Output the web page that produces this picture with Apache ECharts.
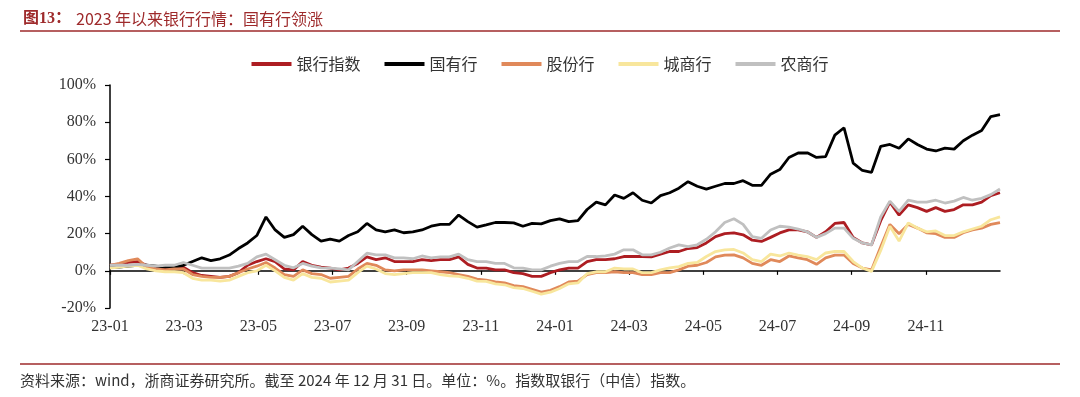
<!DOCTYPE html>
<html>
<head>
<meta charset="utf-8">
<title>2023 年以来银行行情</title>
<script src="https://cdn.jsdelivr.net/npm/echarts@6/dist/echarts.min.js"></script>
<style>
  html, body { margin: 0; padding: 0; background: #fff; }
  #chart { width: 1080px; height: 397px; }
</style>
</head>
<body>
<div id="chart"></div>
<script>
// tick labels of the date axis (one every two months from 2023-01)
const monthLabels = ['23-01', '23-03', '23-05', '23-07', '23-09', '23-11',
  '24-01', '24-03', '24-05', '24-07', '24-09', '24-11'];

const seriesNames = ['银行指数', '国有行', '股份行', '城商行', '农商行'];

// cumulative return in %, sampled evenly from 2023-01 to 2024-12-31
const bankIndex = [3, 3.5, 4.5, 5, 3, 1.5, 1, 1.5, 2, -1,
  -2.5, -3, -3.5, -3, -1, 3, 5, 6.5, 5, 1,
  0.5, 5, 3, 2, 1.5, 0.5, 1.5, 4, 7.5, 6,
  7, 5, 5, 5, 6, 5.5, 6, 6, 7.5, 3.5,
  1.5, 1.5, 0.5, 0.5, -1, -1.5, -3, -3, -1, 0.5,
  1.5, 1.5, 5, 6, 6, 6.5, 7.7, 7.7, 7.7, 7.5,
  9, 10.4, 10.4, 12, 12.5, 15, 18.4, 20, 20.4, 19.4,
  16.5, 15.8, 18, 20.4, 22, 22, 21, 18, 21, 25.5,
  26, 18, 15, 14, 27, 37, 30, 35.5, 34, 32,
  34, 32, 33, 35.5, 35.5, 37, 40.5, 42];

const stateOwned = [2, 2, 2.5, 3, 3, 2.5, 2, 2, 3, 5,
  7, 5.5, 6.5, 8.5, 12, 15, 19, 29, 22, 18,
  19.5, 24, 19.5, 16, 17, 16, 19, 21, 25.5, 22,
  21, 22, 20.5, 21, 22, 24, 25, 25, 30, 26.5,
  23.5, 24.7, 26, 26, 25.8, 24, 25.5, 25.3, 27, 28,
  26.5, 27, 33, 37, 35.5, 40.8, 39, 42, 38, 36.5,
  40.5, 42, 44.5, 48, 45.5, 44, 45.5, 47, 47, 48.5,
  46, 46, 52, 54.5, 61, 63.4, 63.5, 61, 61.5, 73,
  77, 58, 54, 53, 67, 68, 66, 71, 68, 65.5,
  64.5, 66, 65.5, 70, 73, 75.5, 83, 84];

const jointStock = [3, 4, 5.5, 6.5, 2, 1, 0.5, 1, 1, -2,
  -3, -3.5, -3.5, -3, -1, 1, 2.5, 4.5, 1.5, -2,
  -3, 0.5, -1.5, -2, -4, -3.5, -3, 1, 4, 3,
  0.5, 0, 0.5, 0.5, 0.5, 0, -0.5, -1, -2, -3,
  -4.5, -5, -6, -6.5, -8, -8.5, -10, -11.5, -10.5, -8.5,
  -6, -5.5, -2, -1, -1, -0.5, -1, -1, -2, -2,
  -1, -1, 0.5, 2.5, 3, 4.5, 7.5, 8.5, 8.6, 7,
  4, 3, 6, 5, 8, 7, 6, 3.5, 7, 8.5,
  8.5, 4, 1.5, 0.5, 13, 25, 20, 25, 23, 20.5,
  20, 18, 18, 20.5, 22, 23, 25, 26];

const cityBank = [1.5, 2, 2.5, 3, 1, 0, -0.5, -0.5, -1, -4,
  -5, -5, -5.5, -5, -3, -1, 0, 3, 0, -3.5,
  -5, -1.5, -3.5, -4, -6, -5.5, -5, -1, 2.5, 1,
  -1.5, -2, -1.5, -1, -1, -1, -2, -2.7, -3, -4,
  -5.5, -5.7, -7, -7.5, -9, -9.5, -11, -12.5, -11.5, -9.5,
  -7, -6.5, -1.5, -0.5, -0.5, 1.5, 1, 1, -1, -1,
  0.5, 1.6, 2.3, 4, 4.5, 7.7, 10.4, 11.3, 11.5, 9.6,
  6, 5, 9, 8, 9.6, 8.5, 7.7, 6, 9.6, 10.4,
  10.4, 5, 1.5, -0.3, 11, 24, 16, 25.8, 23, 21,
  21.5, 19, 19, 21, 22.5, 24, 27.5, 29];

const ruralBank = [3, 3, 3, 3.5, 3, 2.5, 3, 3, 4.5, 3,
  1.5, 1.5, 1.5, 1.5, 2.5, 4, 7.5, 9, 6, 3,
  1.6, 4, 2.5, 1.6, 1.5, 1, 0.5, 5, 9.5, 8.6,
  8.6, 7, 7, 6.5, 8, 7, 7.5, 7.5, 9, 6,
  5, 5, 4, 4, 1.6, 1.5, 0.5, 0.5, 2.5, 4,
  5, 5, 7.7, 7.7, 8, 9, 11.3, 11.3, 8.6, 8.6,
  10, 12.3, 14, 13, 14, 17, 21, 26, 28, 25,
  18.4, 17.5, 22, 24, 23.5, 22.5, 21, 18, 20, 23,
  23, 17.5, 15, 14, 29, 37.5, 32, 38, 37, 37,
  38, 36.5, 37.5, 39.5, 38, 39, 41, 44];

const seriesColors = ['#ad1d22', '#000000', '#e0895a', '#f8e69c', '#c0c0c0'];

const allValues = [bankIndex, stateOwned, jointStock, cityBank, ruralBank];
const totalMonths = 24;

function toPoints(values) {
  const step = totalMonths / (values.length - 1);
  return values.map((v, i) => [i * step, v]);
}

const dom = document.getElementById('chart');
const myChart = echarts.init(dom, null, { renderer: 'canvas' });

const serifFont = '"Liberation Serif", "Times New Roman", serif';
const cjkFont = '"Noto Sans CJK SC", sans-serif';
const titleRed = '#9e2a2b';

const option = {
  animation: false,
  backgroundColor: '#fff',
  color: seriesColors,
  title: {
    left: 18,
    top: 5,
    text: '{b|图13：} {n|2023 年以来银行行情：国有行领涨}',
    textStyle: {
      fontWeight: 'normal',
      rich: {
        b: { fontFamily: serifFont + ',' + cjkFont, fontWeight: 'bold', fontSize: 16, color: titleRed },
        n: { fontFamily: cjkFont, fontWeight: 'normal', fontSize: 16, color: titleRed }
      }
    }
  },
  legend: {
    top: 51,
    left: 'center',
    icon: 'rect',
    itemWidth: 40,
    itemHeight: 4,
    itemGap: 24,
    textStyle: { fontFamily: cjkFont, fontSize: 16, color: '#333' },
    data: seriesNames
  },
  grid: { left: 110, right: 80, top: 85, bottom: 89, containLabel: false },
  xAxis: [
    {
      type: 'value',
      min: 0,
      max: totalMonths,
      interval: 2,
      position: 'bottom',
      axisLine: { onZero: true, lineStyle: { color: '#000', width: 1.5 } },
      axisTick: { show: true, length: 4, lineStyle: { color: '#000', width: 1.2 },
        customValues: [0, 2, 4, 6, 8, 10, 12, 14, 16, 18, 20, 22] },
      axisLabel: { show: false },
      splitLine: { show: false }
    },
    {
      type: 'value',
      min: 0,
      max: totalMonths,
      interval: 2,
      position: 'bottom',
      axisLine: { show: false, onZero: false },
      axisTick: { show: false },
      axisLabel: {
        margin: 11,
        fontFamily: serifFont,
        fontSize: 16,
        color: '#333',
        formatter: function (v) { return monthLabels[Math.round(v / 2)] || ''; }
      },
      splitLine: { show: false }
    }
  ],
  yAxis: {
    type: 'value',
    min: -20,
    max: 100,
    interval: 20,
    axisLine: { show: true, lineStyle: { color: '#000', width: 1.5 } },
    axisTick: { show: true, length: 5, lineStyle: { color: '#000', width: 1.2 } },
    axisLabel: {
      margin: 14,
      fontFamily: serifFont,
      fontSize: 16,
      color: '#333',
      formatter: '{value}%'
    },
    splitLine: { show: false }
  },
  series: seriesNames.map((name, k) => ({
    name: name,
    type: 'line',
    xAxisIndex: 0,
    showSymbol: false,
    symbol: 'none',
    smooth: false,
    lineStyle: { width: 2.8, color: seriesColors[k] },
    data: toPoints(allValues[k])
  })),
  graphic: [
    { type: 'line', silent: true, shape: { x1: 20, y1: 31, x2: 1060, y2: 31 },
      style: { stroke: titleRed, lineWidth: 1.5 } },
    { type: 'line', silent: true, shape: { x1: 20, y1: 364, x2: 1060, y2: 364 },
      style: { stroke: titleRed, lineWidth: 1.5 } },
    { type: 'text', left: 20, top: 373, silent: true,
      style: { text: '资料来源：wind，浙商证券研究所。截至 2024 年 12 月 31 日。单位：%。指数取银行（中信）指数。',
        fontFamily: cjkFont, fontSize: 15, fill: '#333' } }
  ]
};

myChart.setOption(option);
window.addEventListener('resize', myChart.resize);
</script>
</body>
</html>
